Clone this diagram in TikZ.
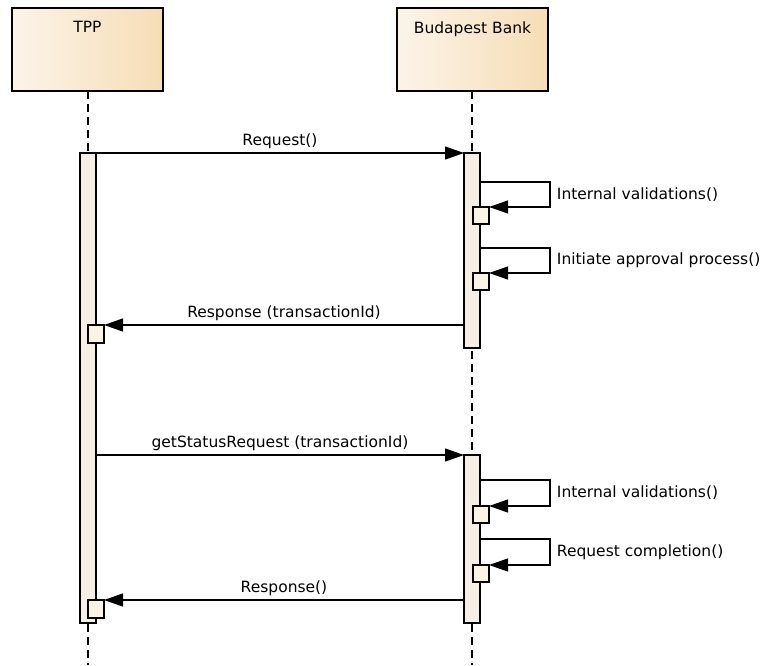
\documentclass[tikz,border=0pt]{standalone}
\usepackage{fontspec}
\setmainfont{DejaVu Sans}
\usetikzlibrary{arrows.meta}
\definecolor{boxleft}{HTML}{FCF4E9}
\definecolor{boxright}{HTML}{F6DDB6}
\definecolor{actfill}{HTML}{F7EEE4}
\definecolor{subfill}{HTML}{FBF3E6}
\begin{document}
\begin{tikzpicture}[
	x=1pt, y=-1pt,
	font=\fontsize{15.5}{18}\selectfont,
	actor/.style={ draw, line width=1.2pt, left color=boxleft, right color=boxright, minimum width=151pt, minimum height=83pt, inner sep=0pt, outer sep=0pt },
	activ/.style={ draw, line width=1.2pt, fill=actfill, minimum width=16pt, inner sep=0pt, outer sep=0pt },
	subact/.style={ draw, line width=1.2pt, fill=subfill, minimum width=16pt, inner sep=0pt, outer sep=0pt },
	lifeline/.style={ line width=1.2pt, dash pattern=on 8pt off 5pt },
	msg/.style={ line width=1.2pt, -{Triangle[length=19pt,width=13pt]} }
]
\useasboundingbox (0,0) rectangle (761,665);

\node at (87.5,49.5) (tpp) [actor,label={[anchor=north,yshift=-10pt]north:TPP}] {};
\node at (472.5,49.5) (bank) [actor,label={[anchor=north,yshift=-10pt]north:Budapest Bank}] {};
\coordinate (tppEnd) at (88,665);
\coordinate (bankEnd) at (472,665);
\draw[lifeline] (tpp.south -| tppEnd) -- (tppEnd);
\draw[lifeline] (bank.south -| bankEnd) -- (bankEnd);

\node at (88,388) (tppAct) [activ,minimum height=470pt] {};
\node at (472,250.5) (bankAct1) [activ,minimum height=195pt] {};
\node at (472,539) (bankAct2) [activ,minimum height=168pt] {};

\node at (96,334) (tppBox1) [subact,minimum height=18pt] {};
\node at (96,609) (tppBox2) [subact,minimum height=18pt] {};
\node at (481,215.5) (valBox1) [subact,minimum height=17pt] {};
\node at (481,281.5) (apprBox) [subact,minimum height=17pt] {};
\node at (481,514.5) (valBox2) [subact,minimum height=17pt] {};
\node at (481,573.5) (complBox) [subact,minimum height=17pt] {};

% first exchange
\draw[msg] (tppAct.north east) -- node[above] {Request()} (bankAct1.north west);
\draw[msg] (bankAct1.east |- valBox1.north) ++(0,-25) -- ++(70,0) |- node[pos=0.25,right,xshift=3pt] {Internal validations()} (valBox1.north east);
\draw[msg] (bankAct1.east |- apprBox.north) ++(0,-25) -- ++(70,0) |- node[pos=0.25,right,xshift=3pt] {Initiate approval process()} (apprBox.north east);
\draw[msg] (bankAct1.west |- tppBox1.north) -- node[above] {Response (transactionId)} (tppBox1.north east);

% status request
\draw[msg] (tppAct.east |- bankAct2.north) -- node[above] {getStatusRequest (transactionId)} (bankAct2.north west);
\draw[msg] (bankAct2.east |- valBox2.north) ++(0,-26) -- ++(70,0) |- node[pos=0.25,right,xshift=3pt] {Internal validations()} (valBox2.north east);
\draw[msg] (bankAct2.east |- complBox.north) ++(0,-26) -- ++(70,0) |- node[pos=0.25,right,xshift=3pt] {Request completion()} (complBox.north east);
\draw[msg] (bankAct2.west |- tppBox2.north) -- node[above] {Response()} (tppBox2.north east);

\end{tikzpicture}
\end{document}
